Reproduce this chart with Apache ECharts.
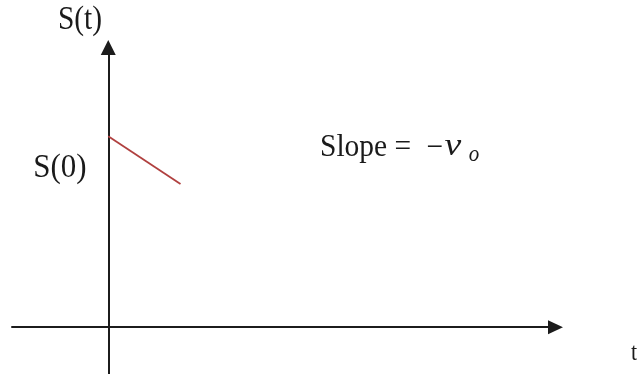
<!DOCTYPE html>
<html>
<head>
<meta charset="utf-8">
<title>S(t) linear decrease</title>
<script src="https://cdn.jsdelivr.net/npm/echarts@6/dist/echarts.min.js"></script>
<style>
  html, body { margin: 0; padding: 0; background: #ffffff; }
  #chart { width: 637px; height: 374px; }
</style>
</head>
<body>
<div id="chart"></div>
<script>
// Time values and the corresponding S(t) values for the short sloped segment
const tValues = [0, 1.5];
const sValues = [4, 3];

// Axis extents (data units) so the axes cross at the origin
const tRange = [-2, 9.29];
const sRange = [-0.98, 5.86];

// Text labels
const yAxisLabel = 'S(t)';
const xAxisLabel = 't';
const startLabel = 'S(0)';
const slopeWord = 'Slope =';
const minusSign = '\u2212';
const velocitySymbol = 'v';
const velocitySubscript = 'o';

const chart = echarts.init(document.getElementById('chart'), null, { renderer: 'canvas' });

const serif = '"Liberation Serif", "Times New Roman", serif';
const axisColor = '#1c1c1c';

function label(text, x, y, size, opts) {
  opts = opts || {};
  return {
    type: 'text',
    x: x,
    y: y,
    scaleX: opts.scaleX || 1,
    scaleY: opts.scaleY || 1.1,
    style: {
      text: text,
      font: (opts.italic ? 'italic ' : '') + size + 'px ' + serif,
      fill: '#1a1a1a',
      align: opts.align || 'left',
      verticalAlign: 'middle'
    }
  };
}

chart.setOption({
  backgroundColor: '#ffffff',
  animation: false,
  grid: { left: 12, right: 81.5, top: 47.5, bottom: 0, containLabel: false },
  xAxis: {
    type: 'value',
    min: tRange[0],
    max: tRange[1],
    axisLine: {
      onZero: true,
      symbol: ['none', 'triangle'],
      symbolSize: [14, 15],
      lineStyle: { color: axisColor, width: 2 }
    },
    axisTick: { show: false },
    axisLabel: { show: false },
    splitLine: { show: false }
  },
  yAxis: {
    type: 'value',
    min: sRange[0],
    max: sRange[1],
    axisLine: {
      onZero: true,
      symbol: ['none', 'triangle'],
      symbolSize: [15, 15],
      lineStyle: { color: axisColor, width: 2 }
    },
    axisTick: { show: false },
    axisLabel: { show: false },
    splitLine: { show: false }
  },
  series: [{
    type: 'line',
    data: tValues.map((t, i) => [t, sValues[i]]),
    showSymbol: false,
    lineStyle: { color: '#b0403f', width: 1.8 },
    silent: true
  }],
  graphic: [
    label(yAxisLabel, 80, 20, 29.5, { align: 'center', scaleY: 1.15 }),
    label(startLabel, 60, 168.5, 31, { align: 'center' }),
    label(slopeWord, 320, 147.5, 29.5),
    label(minusSign, 434.5, 148.5, 29.5, { align: 'center' }),
    label(velocitySymbol, 453, 147, 28, { align: 'center', italic: true, scaleX: 1.35 }),
    label(velocitySubscript, 474, 155, 21, { align: 'center', italic: true }),
    label(xAxisLabel, 631, 353.5, 22)
  ]
});
</script>
</body>
</html>
